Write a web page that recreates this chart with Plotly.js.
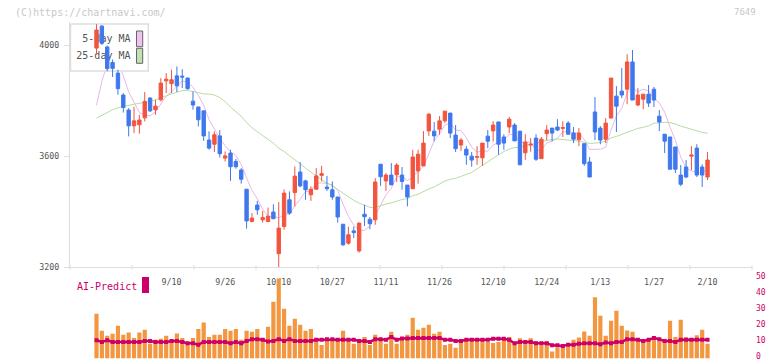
<!DOCTYPE html>
<html><head><meta charset="utf-8">
<script src="https://cdn.plot.ly/plotly-3.0.1.min.js"></script>
<style>html,body{margin:0;padding:0;background:#fff;}#chart{width:772px;height:361px;}</style>
</head><body><div id="chart"></div>
<script>
// ---------- data ----------
const dates = ['8/21','8/22','8/25','8/26','8/27','8/28','8/29',
 '9/1','9/2','9/3','9/4','9/5','9/8','9/9','9/10','9/11','9/12','9/16','9/17','9/18','9/19','9/22','9/24','9/25','9/26','9/29','9/30',
 '10/1','10/2','10/3','10/6','10/7','10/8','10/9','10/10','10/14','10/15','10/16','10/17','10/20','10/21','10/22','10/23','10/24','10/27','10/28','10/29','10/30','10/31',
 '11/4','11/5','11/6','11/7','11/10','11/11','11/12','11/13','11/14','11/17','11/18','11/19','11/20','11/21','11/25','11/26','11/27','11/28',
 '12/1','12/2','12/3','12/4','12/5','12/8','12/9','12/10','12/11','12/12','12/15','12/16','12/17','12/18','12/19','12/22','12/23','12/24','12/25','12/26','12/29','12/30',
 '1/5','1/6','1/7','1/8','1/9','1/13','1/14','1/15','1/16','1/19','1/20','1/21','1/22','1/23','1/26','1/27','1/28','1/29','1/30',
 '2/2','2/3','2/4','2/5','2/6','2/9','2/10'];
const open = [3989,4068,3993,3937,3899,3820,3766,3709,3713,3738,3809,3767,3803,3871,3861,3889,3888,3881,3798,3777,
 3763,3658,3643,3673,3593,3611,3581,3550,3481,3365,3424,3371,3365,3399,3249,3347,3443,3469,3543,3511,
 3461,3481,3531,3489,3479,3453,3355,3287,3331,3259,3391,3373,3371,3571,3511,3532,3533,3532,3496,3483,
 3547,3565,3691,3690,3697,3727,3755,3676,3640,3625,3600,3596,3594,3672,3691,3723,3669,3705,3712,3690,
 3612,3640,3665,3591,3681,3701,3705,3700,3719,3683,3659,3645,3579,3759,3701,3661,3737,3816,3834,3841,
 3939,3784,3805,3823,3841,3744,3679,3669,3633,3532,3561,3600,3629,3561,3525];
const high = [4075,4072,3998,3948,3911,3827,3773,3777,3749,3831,3813,3803,3881,3899,3911,3923,3913,3883,3833,3777,
 3763,3689,3689,3694,3617,3623,3590,3557,3481,3395,3439,3403,3415,3427,3435,3480,3473,3563,3579,3515,
 3491,3557,3565,3529,3509,3453,3355,3346,3347,3361,3425,3381,3521,3571,3539,3575,3575,3561,3496,3623,
 3623,3690,3755,3723,3744,3762,3755,3712,3665,3636,3615,3636,3647,3694,3726,3723,3679,3741,3719,3690,
 3679,3665,3679,3669,3712,3701,3733,3726,3726,3705,3701,3645,3597,3813,3708,3737,3881,3852,3917,3967,
 3982,3845,3823,3856,3849,3766,3679,3669,3633,3568,3586,3636,3643,3571,3615];
const low = [3965,4000,3905,3885,3821,3757,3671,3683,3681,3725,3759,3749,3797,3827,3827,3831,3845,3839,3767,3707,
 3655,3623,3615,3595,3581,3511,3555,3501,3339,3362,3389,3361,3362,3373,3197,3335,3389,3419,3488,3443,
 3439,3479,3509,3475,3443,3361,3277,3281,3305,3253,3349,3337,3353,3493,3475,3495,3507,3479,3419,3481,
 3501,3565,3673,3653,3677,3720,3665,3615,3619,3569,3562,3569,3565,3629,3653,3605,3623,3683,3655,3569,
 3587,3616,3583,3591,3658,3654,3690,3669,3679,3647,3636,3565,3525,3658,3643,3647,3737,3687,3809,3787,
 3802,3780,3769,3777,3777,3690,3611,3553,3539,3492,3521,3550,3525,3489,3514];
const close = [4054,4006,3915,3916,3843,3775,3709,3727,3730,3797,3763,3780,3863,3877,3875,3853,3885,3843,3784,3731,
 3673,3629,3677,3609,3601,3562,3562,3517,3367,3377,3407,3379,3384,3375,3341,3467,3395,3528,3493,3479,
 3481,3529,3537,3483,3453,3381,3281,3317,3325,3359,3382,3357,3507,3526,3532,3497,3568,3509,3453,3597,
 3607,3647,3751,3673,3727,3762,3683,3627,3658,3604,3586,3598,3647,3654,3712,3643,3647,3733,3655,3569,
 3651,3643,3589,3661,3694,3683,3694,3703,3679,3661,3683,3573,3525,3687,3658,3719,3881,3780,3820,3939,
 3802,3820,3823,3791,3802,3723,3654,3553,3553,3499,3525,3604,3532,3532,3586];
// moving-average values before the first full window (earlier days are outside the picture)
const ma5Head = [3783,3870,3930,3955];
const ma25Head = [3737,3748,3758,3767,3774,3779,3783,3787,3790,3793,3797,3803,3809,3817,3824,3831,3836,3837,3833,3828,3824,3823,3820,3811];
// AI-Predict panel
const aiBars = [27.8,17.2,14.1,15.3,20.3,14.7,16.1,12.8,16.1,17.8,9.1,11.6,12.2,14.1,10.8,15.5,12.8,9.9,12.8,18.4,
 22.4,13.4,14.7,14.7,18.4,17.2,18.4,11.6,17.2,16.6,18.4,12.8,19.7,35.3,49.7,30.9,20.3,24.7,21.0,17.2,
 18.4,12.8,8.4,11.6,12.8,11.6,17.2,11.6,9.1,10.3,13.4,8.4,14.7,12.2,9.1,16.6,9.1,11.6,14.7,25.3,
 17.8,19.1,21.0,15.3,16.6,8.4,9.1,6.6,10.3,11.6,12.8,11.6,11.6,10.3,9.7,10.3,11.6,13.4,9.5,12.6,
 9.9,12.6,10.5,8.2,10.5,4.3,6.8,7.0,7.4,11.6,13.0,16.8,14.1,38.0,26.6,14.1,23.4,29.7,20.3,17.4,
 16.6,12.8,11.6,12.0,12.4,10.7,10.3,23.4,13.4,24.0,13.2,12.8,14.5,17.8,9.1];
const aiLine = [11.3,10.3,11.3,10.3,10.3,10.3,10.3,10.3,10.3,10.9,10.9,10.3,10.3,10.3,10.9,10.9,10.3,9.5,9.5,8.6,
 10.3,10.3,10.3,10.3,10.3,9.5,10.3,9.5,10.9,12.0,12.0,11.6,10.5,10.9,12.0,10.9,12.0,10.9,10.9,10.9,
 10.9,11.6,11.6,12.0,12.0,11.6,11.6,11.6,11.6,10.9,10.9,10.3,12.0,12.0,11.6,13.4,11.6,12.4,12.4,12.8,
 12.8,12.8,12.8,12.8,12.8,11.6,11.6,10.9,10.9,11.6,11.6,11.6,11.6,11.6,12.2,12.2,12.2,11.6,9.5,10.3,
 10.3,10.3,9.5,9.5,9.5,8.2,8.2,7.8,8.6,8.6,9.1,9.5,9.5,9.5,8.9,9.9,9.5,10.3,10.3,12.0,
 12.0,11.6,10.9,11.6,12.8,12.0,10.9,10.9,10.3,11.6,11.6,11.6,11.6,11.6,11.6];
const xTickDates = ['9/10','9/26','10/10','10/27','11/11','11/26','12/10','12/24','1/13','1/27','2/10'];
const priceTicks = [3200,3600,4000];
const aiTicks = [0,10,20,30,40,50];
const legendNames = ['5-day MA','25-day MA'];

// ---------- derived ----------
function movingAverage(vals, n, head){
  return vals.map((v,i)=> i < head.length ? head[i] : vals.slice(i-n+1,i+1).reduce((a,b)=>a+b,0)/n);
}
const idx = dates.map((d,i)=>i);
const ma5 = movingAverage(close,5,ma5Head);
const ma25 = movingAverage(close,25,ma25Head);

// ---------- layout geometry (pixels) ----------
const W=772, H=361;
const P = {left:70, right:752, top:22, bottom:267.3, subTop:278, subBottom:358.5};
const XR = [(P.left-96.5)/5.36, (P.right-96.5)/5.36];
const YR = [3200, 3200 + (P.bottom-P.top)/0.27785];
const px = v=>v/W, py = v=>1-v/H;
const dx = v=>XR[0]+(v-P.left)/(P.right-P.left)*(XR[1]-XR[0]);
const dy = v=>YR[1]-(v-P.top)/(P.bottom-P.top)*(YR[1]-YR[0]);
function rect(x0,y0,x1,y1){return {x:[dx(x0),dx(x1),dx(x1),dx(x0),dx(x0)], y:[dy(y0),dy(y0),dy(y1),dy(y1),dy(y0)]};}

const RED='#f2543f', BLUE='#3f78ee', MAG='#cc0066', ORANGE='#f2963f';
const MONO='DejaVu Sans Mono, monospace';

const box = rect(70.5,24,148.3,71), sw1 = rect(136.5,31,142.7,46.7), sw2 = rect(136.5,48.3,142.7,63.3);

const traces = [
  {type:'scatter', mode:'lines', x:idx, y:ma5, xaxis:'x', yaxis:'y', line:{color:'#e9b6ea', width:1}, hoverinfo:'skip'},
  {type:'scatter', mode:'lines', x:idx, y:ma25, xaxis:'x', yaxis:'y', line:{color:'#b6dca4', width:1}, hoverinfo:'skip'},
  {type:'scatter', mode:'lines', x:box.x, y:box.y, fill:'toself', fillcolor:'#ffffff', line:{color:'#dedede', width:1.5}, xaxis:'x', yaxis:'y', hoverinfo:'skip'},
  {type:'scatter', mode:'lines', x:sw1.x, y:sw1.y, fill:'toself', fillcolor:'#efc3ef', line:{color:'#666666', width:1}, xaxis:'x', yaxis:'y', hoverinfo:'skip'},
  {type:'scatter', mode:'lines', x:sw2.x, y:sw2.y, fill:'toself', fillcolor:'#bfe2b3', line:{color:'#666666', width:1}, xaxis:'x', yaxis:'y', hoverinfo:'skip'},
  {type:'scatter', mode:'text', x:[dx(130.5),dx(130.5)], y:[dy(39.5),dy(56.5)], text:legendNames, textposition:'middle left',
   textfont:{family:MONO, size:10, color:'#555555'}, xaxis:'x', yaxis:'y', hoverinfo:'skip'},
  {type:'candlestick', x:idx, open:open, high:high, low:low, close:close, xaxis:'x3', yaxis:'y3', whiskerwidth:0,
   increasing:{line:{color:RED, width:1}, fillcolor:RED}, decreasing:{line:{color:BLUE, width:1}, fillcolor:BLUE}, hoverinfo:'skip'},
  {type:'bar', x:idx, y:aiBars, xaxis:'x2', yaxis:'y2', marker:{color:ORANGE, line:{width:0}}, hoverinfo:'skip'},
  {type:'scatter', mode:'lines+markers', x:idx, y:aiLine, xaxis:'x2', yaxis:'y2', line:{color:MAG, width:2.5},
   marker:{symbol:'square', size:4, color:MAG}, hoverinfo:'skip'}
];

const xDom = [px(P.left), px(P.right)];
const mainDom = [py(P.bottom), py(P.top)];
const tickFont = {family:MONO, size:8.3, color:'#555555'};

const shapes = [];
for(let k=0;k<=11;k++){
  const x = P.left + k*(P.right-P.left)/11;
  shapes.push({type:'line', xref:'paper', yref:'paper', x0:px(x), x1:px(x), y0:py(265), y1:py(270), line:{color:'#dddddd', width:1}});
}
shapes.push({type:'rect', xref:'paper', yref:'paper', x0:px(142), x1:px(149), y0:py(277), y1:py(293), fillcolor:MAG, line:{width:0}});

const layout = {
  width:W, height:H, margin:{l:0,r:0,t:0,b:0}, paper_bgcolor:'#ffffff', plot_bgcolor:'rgba(0,0,0,0)',
  showlegend:false, boxgap:0.1, bargap:0.22, hovermode:false,
  xaxis:{domain:xDom, range:XR, anchor:'y', tickmode:'array', tickvals:xTickDates.map(d=>dates.indexOf(d)), ticktext:xTickDates,
    ticks:'', showline:true, linecolor:'#dddddd', linewidth:1, showgrid:false, zeroline:false, tickfont:tickFont, ticklabelstandoff:7,
    rangeslider:{visible:false}},
  yaxis:{domain:mainDom, range:YR, anchor:'x', tickmode:'array', tickvals:priceTicks, ticktext:priceTicks.map(String),
    ticks:'outside', ticklen:5, tickcolor:'#dddddd', tickwidth:1, showline:true, linecolor:'#dddddd', linewidth:1,
    showgrid:false, zeroline:false, tickfont:tickFont, ticklabelstandoff:3},
  xaxis3:{domain:xDom, range:XR, overlaying:'x', anchor:'y3', visible:false, rangeslider:{visible:false}},
  yaxis3:{domain:mainDom, range:YR, overlaying:'y', anchor:'x3', visible:false},
  xaxis2:{domain:xDom, range:XR, anchor:'y2', visible:false, rangeslider:{visible:false}},
  yaxis2:{domain:[py(P.subBottom), py(P.subTop)], range:[0,50], anchor:'x2', side:'right', tickmode:'array', tickvals:aiTicks,
    ticks:'', showline:false, showgrid:false, zeroline:false, ticklabeloverflow:'allow', ticklabelshift:-2,
    tickfont:{family:MONO, size:8, color:MAG}, ticklabelstandoff:3},
  shapes:shapes,
  annotations:[
    {xref:'paper', yref:'paper', x:px(13), y:py(12), xanchor:'left', yanchor:'middle', showarrow:false, text:'(C)https://chartnavi.com/', font:{family:MONO, size:10, color:'#c8c8c8'}},
    {xref:'paper', yref:'paper', x:px(758), y:py(12), xanchor:'right', yanchor:'middle', showarrow:false, text:'7649', font:{family:MONO, size:9, color:'#c8c8c8'}},
    {xref:'paper', yref:'paper', x:px(75), y:py(286), xanchor:'left', yanchor:'middle', showarrow:false, text:'AI-Predict', font:{family:MONO, size:10, color:MAG}}
  ]
};
Plotly.newPlot('chart', traces, layout, {staticPlot:true, displayModeBar:false});
</script></body></html>
